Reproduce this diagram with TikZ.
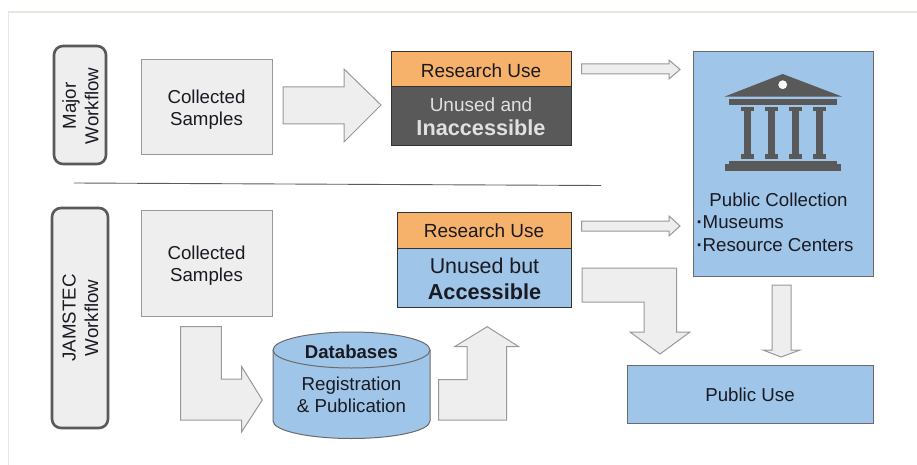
\documentclass[tikz,border=0pt]{standalone}
\usepackage{fontspec}
\setmainfont{Liberation Sans}
\usetikzlibrary{calc}
\definecolor{panelgray}{HTML}{EEEEEE}
\definecolor{edgegray}{HTML}{999999}
\definecolor{darkgray}{HTML}{595959}
\definecolor{orangefill}{HTML}{F6B26B}
\definecolor{bluefill}{HTML}{9FC5E8}
\definecolor{inkblack}{HTML}{1A1A22}
\definecolor{framegray}{HTML}{E7E7E0}
\tikzset{
  base/.style={inner sep=0pt,outer sep=0pt,align=center,text=inkblack,font=\fontsize{18.7}{22.5}\selectfont},
  box/.style n args={4}{base,draw=#1,fill=#2,line width=1pt,minimum width=#3,minimum height=#4},
  pill/.style n args={2}{base,draw=darkgray,fill=panelgray,line width=2.6pt,rounded corners=9pt,minimum width=#1,minimum height=#2},
  grayedge/.style={draw=edgegray,fill=panelgray,line width=1pt,line join=miter},
  label/.style={base,fill=none,draw=none},
  templeshape/.style={fill=darkgray,draw=none}
}
\begin{document}
\begin{tikzpicture}[x=1pt,y=-1pt]
\useasboundingbox (0,0) rectangle (917,465);
\fill[white] (0,0) rectangle (917,465);
\draw[framegray,line width=1.4pt] (8.5,465) -- (8.5,12) -- (917,12);

% workflow labels
\node[pill={52pt}{118pt}] (major) at (80,105) {};
\node[label,rotate=90] (majorT) at (80.5,106) {Major\\Workflow};
\node[pill={56pt}{220pt}] (jam) at (80,318) {};
\node[label,rotate=90] (jamT) at (80.5,318) {JAMSTEC\\Workflow};

% samples
\node[box={edgegray}{panelgray}{131pt}{95pt}] (s1) at (206.5,107.5) {};
\node[label] (s1T) at (206.5,109.5) {Collected\\Samples};
\node[box={edgegray}{panelgray}{131pt}{106pt}] (s2) at (206.5,263) {};
\node[label] (s2T) at (206.5,265.5) {Collected\\Samples};

% stacks
\node[box={black!80}{orangefill}{180pt}{35pt}] (r1) at (481,69.5) {};
\node[label,font=\fontsize{19}{22}\selectfont] (r1T) at (481,71) {Research Use};
\node[box={black!80}{darkgray}{180pt}{59pt}] (u1) at (481,116.5) {};
\node[label,text=white!88!black] (u1T) at (481,116.5) {\fontsize{19}{24}\selectfont Unused and\\[2pt]\fontsize{21.7}{24}\selectfont\bfseries Inaccessible};
\node[box={black!80}{orangefill}{174pt}{36pt}] (r2) at (484,230) {};
\node[label,font=\fontsize{19}{22}\selectfont] (r2T) at (484,231) {Research Use};
\node[box={black!80}{bluefill}{174pt}{59pt}] (u2) at (484,277.5) {};
\node[label] (u2T) at (484.5,278.5) {\fontsize{21.4}{24}\selectfont Unused but\\[3.5pt]\fontsize{21.7}{24}\selectfont\bfseries Accessible};

% public boxes
\node[box={edgegray!70!black}{bluefill}{180pt}{224pt}] (pc) at (783,164) {};
\node[label] (pcT) at (778.5,200) {Public Collection};
\node[label,anchor=west] (pcM) at (696.5,222.5) {\textbf{·}Museums};
\node[label,anchor=west] (pcR) at (696.5,245) {\textbf{·}Resource Centers};
\node[box={edgegray!70!black}{bluefill}{246pt}{58pt}] (pu) at (750,394) {};
\node[label] (puT) at (750,395) {Public Use};

% temple
\fill[templeshape] (724.3,96.7) -- (782.7,74) -- (842.3,96.7) -- cycle;
\fill[white!92!bluefill] (782.7,84.7) circle[radius=4.4];
\fill[templeshape] (729.3,99.3) rectangle (836.7,104.7);
\foreach \cx in {747,771,795,819}{
  \fill[templeshape] (\cx-6.5,106.7) rectangle (\cx+6.5,111);
  \fill[templeshape] (\cx-3.5,111) rectangle (\cx+3.5,154);
  \fill[templeshape] (\cx-6.5,154) rectangle (\cx+6.5,159);
}
\fill[templeshape] (729.3,161.3) rectangle (836.7,164.5);
\fill[templeshape] (725,164.5) rectangle (841,171);

% database
\node[label,minimum width=157pt,minimum height=105pt] (db) at (351.5,385.5) {};
\draw[draw=edgegray!70!black,fill=bluefill,line width=1pt] (db.west |- 0,350) -- (db.west |- 0,421) arc[start angle=180,end angle=0,x radius=78.5,y radius=17.5] -- (db.east |- 0,350) arc[start angle=0,end angle=-180,x radius=78.5,y radius=18] -- cycle;
\draw[draw=edgegray!70!black,line width=1pt] (db.west |- 0,350) arc[start angle=180,end angle=0,x radius=78.5,y radius=18];
\node[label,font=\fontsize{18.6}{22}\selectfont\bfseries] (dbH) at (351.5,352) {Databases};
\node[label] (dbT) at (351.5,395) {Registration\\\& Publication};

% divider
\coordinate (divL) at (74,183);
\coordinate (divR) at (601,185.5);
\draw[edgegray!60!black,line width=0.9pt] (divL) -- (divR);

% block arrows
\draw[grayedge] ($(s1.east)+(11,-20.5)$) -- ++(61,0) -- ++(0,-18) -- ++(37,36) -- ++(-37,37) -- ++(0,-18) -- ++(-61,0) -- cycle;
\draw[grayedge] ($(r1.east)+(10.5,-5.5)$) -- ++(87.5,0) -- ++(0,-4) -- ++(11,9.5) -- ++(-11,9.5) -- ++(0,-5) -- ++(-87.5,0) -- cycle;
\draw[grayedge] ($(r2.east)+(10.5,-9)$) -- ++(87.5,0) -- ++(0,-5) -- ++(11,10) -- ++(-11,10) -- ++(0,-5) -- ++(-87.5,0) -- cycle;
% samples -> databases
\draw[grayedge] ($(s2.south west)+(39.7,10.7)$) -- ++(40.6,0) -- ++(0,52.3) -- ++(20.4,0) -- ++(0,-12.3) -- ++(20.6,33.3) -- ++(-20.6,31.7) -- ++(0,-11.7) -- ++(-61,0) -- cycle;
% databases -> accessible
\draw[grayedge] ($(db.east)+(8.5,-5.8)$) -- ++(28.7,0) -- ++(0,-33) -- ++(-12.7,0) -- ++(32.7,-20) -- ++(31.6,20) -- ++(-12.3,0) -- ++(0,73.3) -- ++(-68,0) -- cycle;
% accessible -> public use
\draw[grayedge] ($(u2.east)+(11,-9.5)$) -- ++(94.5,0) -- ++(0,64) -- ++(13.5,0) -- ++(-30,22) -- ++(-30,-22) -- ++(14,0) -- ++(0,-30) -- ++(-62,0) -- cycle;
% collection -> public use
\draw[grayedge] ($(pc.south)+(-11,9)$) -- ++(19,0) -- ++(0,65) -- ++(9,0) -- ++(-19,7) -- ++(-18,-7) -- ++(9,0) -- cycle;
\end{tikzpicture}
\end{document}
